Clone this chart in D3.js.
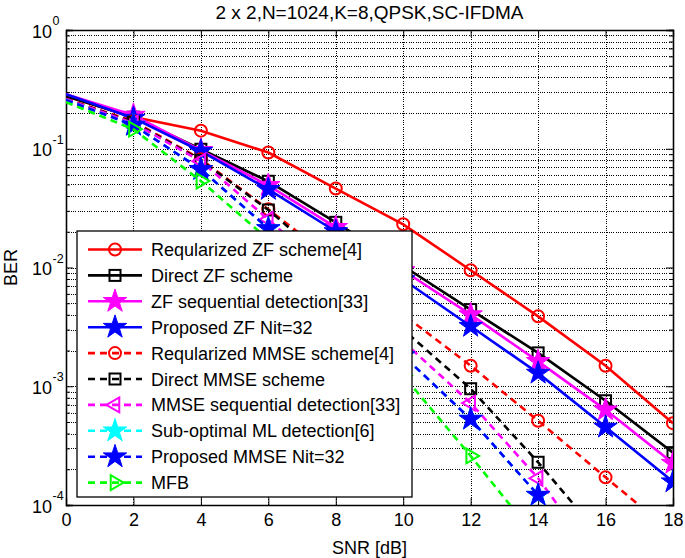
<!DOCTYPE html>
<html><head><meta charset="utf-8">
<script src="https://cdn.jsdelivr.net/npm/d3@7"></script>
<style>
html,body{margin:0;padding:0;background:#fff;}
text{font-family:"Liberation Sans",Arial,sans-serif;fill:#000;}
</style></head>
<body><svg id="c" width="685" height="558"></svg>
<script>
const title = "2 x 2,N=1024,K=8,QPSK,SC-IFDMA";
const xLabel = "SNR [dB]";
const yLabel = "BER";
const snr = [0, 2, 4, 6, 8, 10, 12, 14, 16, 18];
const xTicks = [0, 2, 4, 6, 8, 10, 12, 14, 16, 18];
const yTickExp = [0, -1, -2, -3, -4];
const seriesNames = [
  "Reqularized ZF scheme[4]",
  "Direct ZF scheme",
  "ZF sequential detection[33]",
  "Proposed ZF Nit=32",
  "Reqularized MMSE scheme[4]",
  "Direct MMSE scheme",
  "MMSE sequential detection[33]",
  "Sub-optimal ML detection[6]",
  "Proposed MMSE Nit=32",
  "MFB"
];
const regZF     = [0.277, 0.185, 0.142, 0.0929, 0.0462, 0.0231, 0.00949, 0.00388, 0.00149, 0.000489];
const directZF  = [0.277, 0.1845, 0.099, 0.0532, 0.0240, 0.0103, 0.00442, 0.00191, 0.000755, 0.000276];
const seqZF     = [0.288, 0.192, 0.097, 0.0492, 0.0218, 0.00944, 0.00401, 0.00162, 0.000633, 0.000225];
const propZF    = [0.288, 0.181, 0.0953, 0.0455, 0.0201, 0.00792, 0.0032, 0.00129, 0.000453, 0.000157];
const regMMSE   = [0.262, 0.1706, 0.0815, 0.0309, 0.01124, 0.00401, 0.00149, 0.000512, 0.000171, 0.000058];
const directMMSE= [0.262, 0.1674, 0.080, 0.0305, 0.0100, 0.0030, 0.000953, 0.000229, 0.0000487, 0.000009];
const seqMMSE   = [0.262, 0.164, 0.0785, 0.0254, 0.00792, 0.00238, 0.000722, 0.000168, 0.0000283, 0.000004];
const subML     = [0.257, 0.158, 0.0671, 0.0213, 0.00615, 0.00181, 0.000529, 0.000121, 0.0000192, 0.000003];
const propMMSE  = [0.257, 0.158, 0.0671, 0.0213, 0.00615, 0.00181, 0.000529, 0.000121, 0.0000192, 0.000003];
const mfb       = [0.247, 0.146, 0.0535, 0.0172, 0.00487, 0.00123, 0.000259, 0.0000507, 0.000008, 0.000001];
const seriesValues = [regZF, directZF, seqZF, propZF, regMMSE, directMMSE, seqMMSE, subML, propMMSE, mfb];
const colors = ["#ff0000","#000000","#ff00ff","#0000ff","#ff0000","#000000","#ff00ff","#00ffff","#0000ff","#00ff00"];
const dashed = [false,false,false,false,true,true,true,true,true,true];
const markers = ["circle","square","star","star","circle","square","tleft","star","star","tright"];

const svg = d3.select("#c");
const L = 66, R = 673, T = 30, B = 505;
const x = d3.scaleLinear().domain([0, 18]).range([L, R]);
const y = d3.scaleLog().domain([1e-4, 1]).range([B, T]);

svg.append("defs").append("clipPath").attr("id","clip")
  .append("rect").attr("x", L).attr("y", T).attr("width", R - L).attr("height", B - T);

// grid
const gridG = svg.append("g");
const minor = [];
for (let e = -4; e < 0; e++) for (let m = 2; m <= 9; m++) minor.push(m * Math.pow(10, e));
const gridStyle = s => s.attr("stroke", "#000").attr("stroke-width", 1).attr("stroke-dasharray", "1,1.3").attr("shape-rendering","crispEdges");
minor.concat(yTickExp.map(e => Math.pow(10, e))).forEach(v => {
  gridG.append("line").attr("x1", L).attr("x2", R).attr("y1", Math.round(y(v))+0.5).attr("y2", Math.round(y(v))+0.5).call(gridStyle);
});
xTicks.forEach(v => {
  gridG.append("line").attr("x1", Math.round(x(v))+0.5).attr("x2", Math.round(x(v))+0.5).attr("y1", T).attr("y2", B).call(gridStyle);
});

// axes with inward ticks
const axB = d3.axisBottom(x).tickValues(xTicks).tickSize(-7).tickFormat(d => d);
const axT = d3.axisTop(x).tickValues(xTicks).tickSize(-7).tickFormat("");
const axL = d3.axisLeft(y).tickValues(yTickExp.map(e => Math.pow(10, e))).tickSize(-7).tickFormat("");
const axR = d3.axisRight(y).tickValues(yTickExp.map(e => Math.pow(10, e))).tickSize(-7).tickFormat("");
const gB = svg.append("g").attr("transform", `translate(0,${B})`).call(axB);
svg.append("g").attr("transform", `translate(0,${T})`).call(axT);
svg.append("g").attr("transform", `translate(${L},0)`).call(axL);
svg.append("g").attr("transform", `translate(${R},0)`).call(axR);
const mL = d3.axisLeft(y).tickValues(minor).tickSize(-4).tickFormat("");
const mR = d3.axisRight(y).tickValues(minor).tickSize(-4).tickFormat("");
svg.append("g").attr("transform", `translate(${L},0)`).call(mL);
svg.append("g").attr("transform", `translate(${R},0)`).call(mR);
svg.selectAll(".domain").attr("stroke", "#000").attr("stroke-width", 1.3);
svg.selectAll(".tick line").attr("stroke", "#000");
gB.selectAll(".tick text").attr("font-size", 18).attr("dy", "1.0em").attr("font-family", '"Liberation Sans",Arial,sans-serif');

// y tick labels 10^e
yTickExp.forEach(e => {
  const yy = y(Math.pow(10, e));
  svg.append("text").attr("x", 52).attr("y", yy + 7.5).attr("text-anchor", "end").attr("font-size", 18).text("10");
  svg.append("text").attr("x", 52.5).attr("y", yy - 5).attr("text-anchor", "start").attr("font-size", 12.5).text(String(e));
});

// title & labels
svg.append("text").attr("x", (L + R) / 2).attr("y", 19).attr("text-anchor", "middle").attr("font-size", 18.5).attr("textLength", 308).attr("lengthAdjust","spacingAndGlyphs").text(title);
svg.append("text").attr("x", (L + R) / 2).attr("y", 554).attr("text-anchor", "middle").attr("font-size", 18).text(xLabel);
svg.append("text").attr("transform", `translate(17,${(T + B) / 2}) rotate(-90)`).attr("text-anchor", "middle").attr("font-size", 18).text(yLabel);

// marker drawing
function drawMarker(g, type, cx, cy, color) {
  if (type === "circle") {
    g.append("circle").attr("cx", cx).attr("cy", cy).attr("r", 6).attr("fill", "none").attr("stroke", color).attr("stroke-width", 2);
  } else if (type === "square") {
    g.append("rect").attr("x", cx - 5.5).attr("y", cy - 5.5).attr("width", 11).attr("height", 11).attr("fill", "none").attr("stroke", color).attr("stroke-width", 2);
  } else if (type === "star") {
    g.append("path").attr("d", d3.symbol(d3.symbolStar, 170)()).attr("transform", `translate(${cx},${cy})`).attr("fill", color).attr("stroke", color).attr("stroke-width", 1);
  } else if (type === "tleft" || type === "tright") {
    const rot = type === "tleft" ? -90 : 90;
    g.append("path").attr("d", d3.symbol(d3.symbolTriangle, 95)()).attr("transform", `translate(${cx},${cy}) rotate(${rot})`).attr("fill", "none").attr("stroke", color).attr("stroke-width", 2);
  }
}

// series
const plotG = svg.append("g").attr("clip-path", "url(#clip)");
const line = d3.line().x(d => x(d[0])).y(d => y(d[1]));
seriesValues.forEach((vals, i) => {
  const pts = snr.map((s, j) => [s, vals[j]]);
  plotG.append("path").attr("d", line(pts)).attr("fill", "none").attr("stroke", colors[i]).attr("stroke-width", 2.6)
    .attr("stroke-dasharray", dashed[i] ? "7,5" : null);
  pts.filter(p => p[0] >= 2 && p[1] >= 1e-4).forEach(p => drawMarker(plotG, markers[i], x(p[0]), y(p[1]), colors[i]));
});

// legend
const lg = svg.append("g");
const lx = 77, ly = 231, lw = 335, lh = 266;
lg.append("rect").attr("x", lx).attr("y", ly).attr("width", lw).attr("height", lh).attr("fill", "#fff").attr("stroke", "#000").attr("stroke-width", 1.3);
seriesNames.forEach((name, i) => {
  const yy = 249.5 + i * 25.9;
  lg.append("line").attr("x1", 88).attr("x2", 142).attr("y1", yy).attr("y2", yy).attr("stroke", colors[i]).attr("stroke-width", 2.6)
    .attr("stroke-dasharray", dashed[i] ? "7,5" : null);
  drawMarker(lg, markers[i], 115, yy, colors[i]);
  lg.append("text").attr("x", 151).attr("y", yy + 6.5).attr("font-size", 18).text(name);
});
</script></body></html>
